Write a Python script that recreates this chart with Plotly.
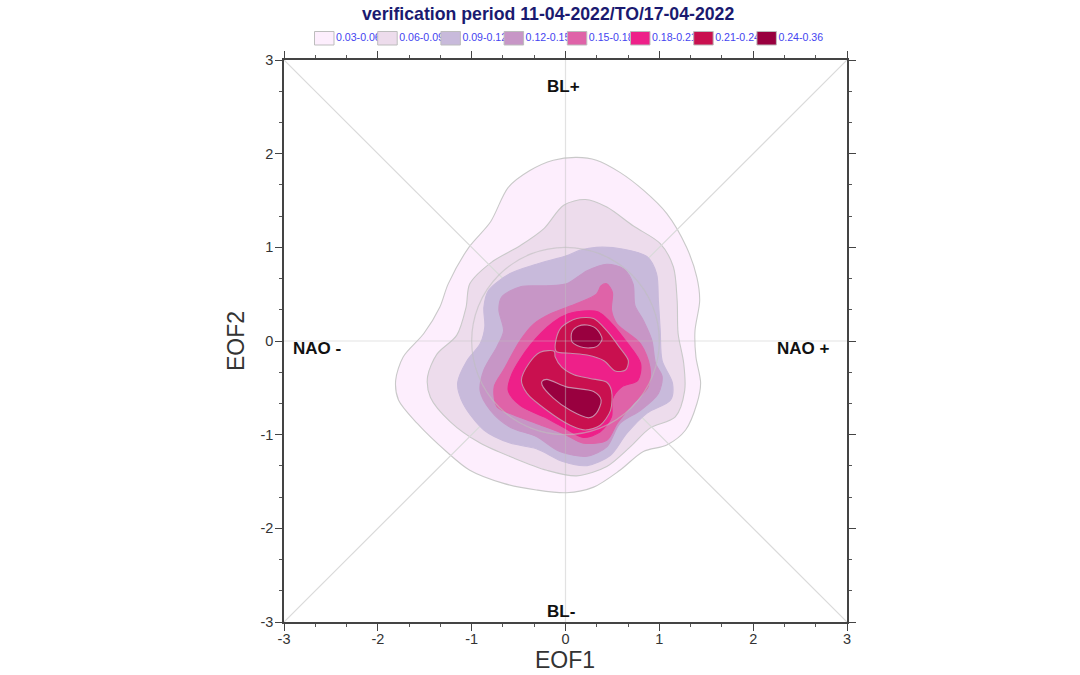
import plotly.graph_objects as go

W, H = 1080, 675
FONT = "Liberation Sans"

level_labels = ["0.03-0.06", "0.06-0.09", "0.09-0.12", "0.12-0.15",
                "0.15-0.18", "0.18-0.21", "0.21-0.24", "0.24-0.36"]
level_colors = ["#FDEEFD", "#EDDCEC", "#C8BADB", "#C796C6",
                "#DF63A8", "#EE2089", "#C9104F", "#99003F"]
level_lines = ["#C9C9C9", "#C9C9C9", "#C8BADB", "#C796C6",
               "#DF63A8", "#EE2089", "#C98AA8", "#C98AA8"]

l0_x = [.12,.33,.58,.83,1.08,1.29,1.40,1.43,1.38,1.39,1.44,1.40,1.28,1.08,.83,.58,.30,.01,-.31,-.66,-1.02,-1.27,-1.58,-1.78,-1.81,-1.73,-1.51,-1.34,-1.25,-1.03,-.80,-.61,-.38,-.13,.12]
l0_y = [1.96,1.93,1.80,1.61,1.36,1.00,.68,.43,.11,-.17,-.45,-.67,-.95,-1.11,-1.18,-1.38,-1.56,-1.62,-1.59,-1.52,-1.38,-1.18,-.88,-.63,-.42,-.17,.08,.36,.61,1.00,1.27,1.64,1.82,1.93,1.96]

l1_x = [.21,.44,.72,1.01,1.15,1.19,1.20,1.26,1.27,1.17,.90,.69,.44,.12,-.20,-.55,-.91,-1.23,-1.44,-1.47,-1.37,-1.16,-1.06,-1.02,-.79,-.48,-.23,-.02,.21]
l1_y = [1.51,1.43,1.23,1.04,.79,.43,.08,-.24,-.53,-.81,-.93,-1.13,-1.34,-1.44,-1.38,-1.25,-1.09,-.86,-.60,-.38,-.14,.06,.36,.61,.84,1.02,1.20,1.45,1.51]

l2_x = [.33,.62,.87,.97,.99,1.01,1.03,1.14,1.12,.87,.65,.48,.23,-.02,-.31,-.59,-.87,-1.09,-1.15,-1.05,-.91,-.86,-.87,-.82,-.59,-.31,.01,.16,.33]
l2_y = [1.00,.98,.90,.72,.43,.11,-.21,-.45,-.63,-.77,-.99,-1.22,-1.33,-1.29,-1.15,-1.09,-.95,-.67,-.45,-.21,-.03,.15,.36,.54,.72,.82,.91,.97,1.00]

l3_x = [.44,.62,.72,.74,.83,.92,.96,1.03,.99,.80,.58,.44,.23,-.06,-.31,-.59,-.80,-.91,-.87,-.73,-.66,-.71,-.68,-.48,-.20,.01,.23,.44]
l3_y = [.82,.77,.61,.38,.22,.01,-.24,-.38,-.56,-.74,-.88,-1.13,-1.23,-1.18,-1.02,-.92,-.74,-.53,-.31,-.06,.11,.33,.47,.58,.59,.61,.75,.82]

l4_x = [.44,.50,.49,.55,.80,.90,.88,.72,.55,.44,.19,-.02,-.31,-.55,-.73,-.76,-.66,-.48,-.34,-.16,.12,.33,.38,.44]
l4_y = [.61,.52,.33,.18,-.03,-.28,-.49,-.67,-.88,-1.06,-1.09,-.99,-.88,-.79,-.70,-.49,-.31,.01,.18,.29,.40,.50,.59,.61]

l5_x = [.19,.35,.48,.65,.80,.77,.60,.50,.49,.37,.19,.01,-.23,-.48,-.61,-.57,-.38,-.13,.03,.19]
l5_y = [.32,.31,.20,-.01,-.24,-.42,-.49,-.62,-.81,-.97,-1.03,-.94,-.81,-.69,-.53,-.35,-.05,.20,.29,.32]

l6_x = [-.10,-.04,.12,.30,.44,.57,.67,.64,.53,.41,.23,.05,-.10,-.10,None,
        -.12,-.11,-.04,.09,.26,.44,.49,.48,.37,.21,.05,-.20,-.41,-.47,-.39,-.27,-.12]
l6_y = [.02,.15,.24,.24,.11,-.06,-.21,-.31,-.32,-.21,-.15,-.13,-.11,.02,None,
        -.11,-.17,-.28,-.36,-.40,-.44,-.53,-.74,-.90,-.95,-.90,-.74,-.56,-.42,-.24,-.12,-.11]

l7_x = [.23,.33,.39,.33,.19,.07,.07,.14,.23,None,
        -.20,.01,.30,.38,.33,.25,.05,-.13,-.25,-.25,-.20]
l7_y = [.17,.13,.02,-.06,-.07,-.01,.10,.16,.17,None,
        -.41,-.49,-.54,-.63,-.77,-.82,-.74,-.61,-.47,-.43,-.41]

levels_x = [l0_x, l1_x, l2_x, l3_x, l4_x, l5_x, l6_x, l7_x]
levels_y = [l0_y, l1_y, l2_y, l3_y, l4_y, l5_y, l6_y, l7_y]

regime_labels = ["BL+", "BL-", "NAO -", "NAO +"]
regime_x = [-.02, -.05, -2.65, 2.54]
regime_y = [2.72, -2.89, -.085, -.085]

axis_ticks = [-3, -2, -1, 0, 1, 2, 3]
axis_tick_text = ["-3", "-2", "-1", "0", "1", "2", "3"]
axis_limits = [-3, 3]
title_text = "verification period 11-04-2022/TO/17-04-2022"

fig = go.Figure()


def guide(xs, ys, color, width=1.2, xaxis="x", yaxis="y"):
    fig.add_trace(go.Scatter(x=xs, y=ys, mode="lines", hoverinfo="skip",
                             line=dict(color=color, width=width),
                             showlegend=False, xaxis=xaxis, yaxis=yaxis))


for i, (xs, ys, col, lc) in enumerate(zip(levels_x, levels_y, level_colors, level_lines)):
    fig.add_trace(go.Scatter(x=xs, y=ys, mode="lines", fill="toself", fillcolor=col,
                             line=dict(color=lc, width=1.1, shape="spline", smoothing=0.85),
                             hoverinfo="skip", showlegend=False, xaxis="x", yaxis="y"))
    if i == 1:
        guide(axis_limits, axis_limits, "#DADADA")
        guide(axis_limits, axis_limits[::-1], "#DADADA")

guide(axis_limits, [0, 0], "rgba(190,190,190,0.45)")
guide([0, 0], axis_limits, "rgba(190,190,190,0.45)")
guide(axis_limits, axis_limits, "rgba(0,0,0,0)", xaxis="x3", yaxis="y3")

axis_style = dict(range=axis_limits, tickvals=axis_ticks, ticktext=axis_tick_text,
                  ticks="outside", ticklen=7,
                  tickwidth=1.2, tickcolor="#444", showline=True, linecolor="#444",
                  linewidth=1.6, showgrid=False, zeroline=False,
                  tickfont=dict(family=FONT, size=14.5, color="#333"),
                  minor=dict(ticks="outside", ticklen=3, tickwidth=1, tickcolor="#555",
                             tick0=0, dtick=1 / 3, showgrid=False))

STRIP_TOP, STRIP_BOTTOM = 25, 52
SW_X0, SW_STEP, SW_W, SW_TOP, SW_BOTTOM = 314.5, 63.2, 19.5, 31.5, 45
for i, (lab, col) in enumerate(zip(level_labels, level_colors)):
    x0 = SW_X0 + i * SW_STEP
    fig.add_trace(go.Scatter(x=[x0 + SW_W + 2], y=[(SW_TOP + SW_BOTTOM) / 2], mode="text",
                             text=[lab], textposition="middle right", cliponaxis=False,
                             textfont=dict(family=FONT, size=10.6, color="#4444F0"),
                             hoverinfo="skip", showlegend=False, xaxis="x2", yaxis="y2"))
for i, (lab, col) in enumerate(zip(level_labels, level_colors)):
    x0 = SW_X0 + i * SW_STEP
    fig.add_trace(go.Scatter(x=[x0, x0 + SW_W, x0 + SW_W, x0, x0],
                             y=[SW_TOP, SW_TOP, SW_BOTTOM, SW_BOTTOM, SW_TOP],
                             mode="lines", fill="toself", fillcolor=col,
                             line=dict(color="#BDBDBD", width=1),
                             hoverinfo="skip", showlegend=False, xaxis="x2", yaxis="y2"))

centered = dict(showarrow=False, xanchor="center", yanchor="middle")
annotations = [dict(x=x, y=y, xref="x", yref="y", text=f"<b>{t}</b>",
                    font=dict(family=FONT, size=17, color="#111"), **centered)
               for t, x, y in zip(regime_labels, regime_x, regime_y)]
annotations.append(dict(x=547.5 / W, y=1 - 14 / H, xref="paper", yref="paper",
                        text=f"<b>{title_text}</b>",
                        font=dict(family=FONT, size=17.7, color="#1A1A70"), **centered))
annotations.append(dict(x=565 / W, y=1 - 660 / H, xref="paper", yref="paper", text="EOF1",
                        font=dict(family=FONT, size=23, color="#333"), **centered))
annotations.append(dict(x=236 / W, y=1 - 341 / H, xref="paper", yref="paper", text="EOF2",
                        textangle=-90, font=dict(family=FONT, size=23, color="#333"), **centered))

xstyle = dict(axis_style, ticklabelstandoff=-4)
ystyle = dict(axis_style, ticklabelstandoff=-1)
xdomain = [284 / W, 847 / W]
ydomain = [(H - 622) / H, (H - 60) / H]

fig.update_layout(
    width=W, height=H, margin=dict(l=0, r=0, t=0, b=0, autoexpand=False), autosize=False,
    paper_bgcolor="white", plot_bgcolor="white", showlegend=False,
    xaxis=dict(domain=xdomain, anchor="y", **xstyle),
    yaxis=dict(domain=ydomain, anchor="x", **ystyle),
    xaxis2=dict(domain=[0, 1], range=[0, W], visible=False, anchor="y2"),
    yaxis2=dict(domain=[(H - STRIP_BOTTOM) / H, (H - STRIP_TOP) / H],
                range=[STRIP_BOTTOM, STRIP_TOP], visible=False, anchor="x2"),
    xaxis3=dict(domain=xdomain, overlaying="x", anchor="y3", side="top",
                **dict(axis_style, showticklabels=False)),
    yaxis3=dict(domain=ydomain, overlaying="y", anchor="x3", side="right",
                **dict(axis_style, showticklabels=False)),
    annotations=annotations,
    shapes=[dict(type="circle", xref="x", yref="y", x0=-1, x1=1, y0=-1, y1=1, layer="above",
                 line=dict(color="rgba(190,190,190,0.6)", width=1.2))],
)

fig.write_html("out.html", config=dict(displayModeBar=False),
               post_script="document.body.style.margin='0';")
